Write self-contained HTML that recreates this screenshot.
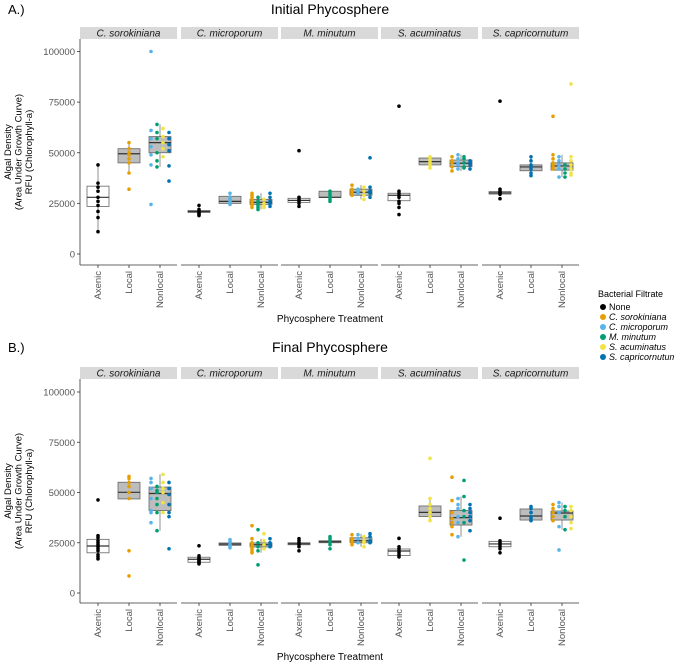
<!DOCTYPE html>
<html><head><meta charset="utf-8">
<style>
html,body{margin:0;padding:0;background:#fff;}
svg{display:block;font-family:"Liberation Sans",Arial,sans-serif;}
</style></head>
<body>
<svg id="chart" width="674" height="663" viewBox="0 0 674 663">
  <text x="8" y="14" font-size="13" fill="#000">A.)</text>
  <text x="330" y="14" font-size="14" text-anchor="middle" fill="#000">Initial Phycosphere</text>
  <text x="8" y="352" font-size="13" fill="#000">B.)</text>
  <text x="330" y="352" font-size="14" text-anchor="middle" fill="#000">Final Phycosphere</text>
  <text x="330" y="322" font-size="10" text-anchor="middle" fill="#000">Phycosphere Treatment</text>
  <text x="330" y="660" font-size="10" text-anchor="middle" fill="#000">Phycosphere Treatment</text>
  <g id="legend">
    <text x="598" y="297" font-size="9" fill="#000">Bacterial Filtrate</text>
  </g>
</svg>
<script>
const species = ["C. sorokiniana","C. microporum","M. minutum","S. acuminatus","S. capricornutum"];
const treatments = ["Axenic","Local","Nonlocal"];
const legendLabels = ["None","C. sorokiniana","C. microporum","M. minutum","S. acuminatus","S. capricornutum"];
const colors = ["#000000","#E69F00","#56B4E9","#009E73","#F0E442","#0072B2"];
const yTicks = [0,25000,50000,75000,100000];

// box stats [q1, median, q3] per group (species x treatment)
const initialBoxes = [
 [23500,28000,33500],[45000,49500,52000],[50000,55000,58000],
 [20500,21000,21500],[25000,26000,28500],[24500,25500,27000],
 [25500,26500,27500],[28000,28000,31000],[29000,30500,32000],
 [26300,29000,30000],[44000,45600,47400],[43100,44800,46400],
 [29600,30200,30800],[41100,43000,44000],[41400,43500,45000]
];
// points per group: [none, sor, mic, min, acu, cap]
const initialPoints = [
 [[44000,35000,33000,31000,28000,26000,24000,21000,18000,11000],[],[],[],[],[]],
 [[],[55000,52000,50000,49000,47000,45000,40000,32000],[],[],[],[]],
 [[],[],[100000,61000,57000,53000,49000,44000,24500],[64000,60000,57000,50000,46000,43000],[62000,58000,55000,52000,48000],[60000,57000,54000,51000,43500,36000]],
 [[24000,22000,21000,20500,20000,19500,19000],[],[],[],[],[]],
 [[],[],[30000,28000,27000,26000,25000,24500],[],[],[]],
 [[],[30000,29000,28000,27000,26000,25000,24000,23000],[],[28000,26000,25000,24000,23000,22000],[27000,25000,24000,23000],[30000,28000,26000,25000,23500]],
 [[51000,28000,27000,26000,25000,23500],[],[],[],[],[]],
 [[],[],[],[31000,30000,29000,28000,27000,26000],[],[]],
 [[],[34000,32000,31000,30000,29000],[32000,31000,30000],[],[33000,31000,29000,27000],[47500,33000,31000,30000,28000]],
 [[73000,31000,30000,29000,28000,26000,25000,23000,19500],[],[],[],[],[]],
 [[],[],[],[],[48000,47000,46000,45000,44000,42500],[]],
 [[],[48000,46000,45000,43000,41000],[49000,47000,45000,44000,42000],[48000,47000,45000,43000,42500],[],[46000,45000,44000,42000]],
 [[75500,32000,31000,30500,30000,29500,27300],[],[],[],[],[]],
 [[],[],[],[],[],[48000,46000,44000,43000,42000,40000,38700]],
 [[],[68000,49000,47000,45000,44000,43000,42000],[48000,46000,44000,42000,38000],[44000,42000,40000,38000],[84000,48000,46000,44000,42000,40000,39000],[]]
];
const finalBoxes = [
 [20000,23400,26700],[46800,50100,55100],[41000,49500,52700],
 [15300,16800,17800],[23700,24300,24900],[22900,24000,24900],
 [24000,24500,25000],[25000,25500,26000],[25000,26000,27500],
 [18600,20900,21900],[38000,40100,43300],[33800,37500,41100],
 [23000,24400,25700],[36300,38300,41800],[36300,39800,40800]
];
const finalPoints = [
 [[46300,28500,27500,26000,25000,24000,23000,22000,21000,19000,18000,17000],[],[],[],[],[]],
 [[],[58000,57000,55000,53000,50000,47000,21000,8500],[],[],[],[]],
 [[],[],[57000,55000,52000,47000,41000,40000,35000],[53000,51000,50000,47000,44000,40000,31000],[59000,55000,52000,50000,45000,40000],[55000,52000,49000,44000,40000,38000,22000]],
 [[23500,18500,17500,17000,16500,16000,15500,15000,14500],[],[],[],[],[]],
 [[],[],[26500,25500,25000,24000,23500,22500],[],[],[]],
 [[],[33500,27000,25000,24000,23000,22000,21000,20000],[],[31500,25000,23000,21000,14000],[29500,26000,24000,22000],[27000,25000,24000,23000]],
 [[27000,26000,25000,24000,23000,21000],[],[],[],[],[]],
 [[],[],[],[28000,27000,26000,25000,24000,22000],[],[]],
 [[],[29000,27000,26000,25000,24000],[29000,27000,25000],[],[28000,26000,25000,23000],[29500,28000,26000,25000]],
 [[27200,23000,22000,21000,20000,19000,18000],[],[],[],[],[]],
 [[],[],[],[],[67000,47000,44000,42000,40000,38000,36000],[]],
 [[],[57600,46000,40000,37000,35000,33000,29000],[47000,44000,42000,38000,35000,28000],[56000,48000,41000,38000,35000,16400],[],[44000,42000,40000,38000,36000,31000]],
 [[37200,26000,25000,24000,23000,22000,20000],[],[],[],[],[]],
 [[],[],[],[],[],[43000,42000,40000,38000,37000,36000]],
 [[],[44000,42000,40000,38000,36000],[45000,43000,40000,33000,21400],[43000,41000,38000,31500],[43000,41000,38000,35000,32000],[]]
];

const NS="http://www.w3.org/2000/svg";
const svg=document.getElementById('chart');
function mk(tag,attrs,parent){const e=document.createElementNS(NS,tag);for(const k in attrs)e.setAttribute(k,attrs[k]);(parent||svg).appendChild(e);return e;}
const panelX=[80,181,281,381,482], panelW=97;

function drawPlot(key,boxes,points,L){
  const g=mk('g',{});
  
  
  const yS=v=>L.y0+(L.y100-L.y0)*v/100000;
  yTicks.forEach(t=>{
    const tx=mk('text',{x:75,y:yS(t)+3.5,'font-size':9.5,'text-anchor':'end',fill:'#555'},g);
    tx.textContent=t;
    
    
    mk('line',{x1:panelX[0]-3,x2:panelX[0],y1:yS(t),y2:yS(t),stroke:'#333','stroke-width':0.8},g);
  });
  mk('line',{x1:panelX[0],x2:panelX[0],y1:L.pTop,y2:L.axisY,stroke:'#333','stroke-width':0.8},g);
  const yt=mk('text',{transform:`translate(${L.ytx},${(L.pTop+L.axisY)/2}) rotate(-90)`,'font-size':9.5,'text-anchor':'middle',fill:'#000'},g);
  
  
  ['Algal Density','(Area Under Growth Curve)','RFU (Chlorophyll-a)'].forEach((s,i)=>{
    const ts=mk('tspan',{x:0,y:-13+i*10.5},yt);ts.textContent=s;
  });
  species.forEach((sp,p)=>{
    const px=panelX[p];
    const st=mk('rect',{x:px,y:L.sTop,width:panelW,height:L.pTop-L.sTop,fill:'#d9d9d9'},g);
    
    
    const stt=mk('text',{x:px+panelW/2,y:L.pTop-2.5,'font-size':10,'font-style':'italic','text-anchor':'middle',fill:'#1a1a1a'},g);
    stt.textContent=sp;
    
    
    mk('line',{x1:px,x2:px+panelW,y1:L.axisY,y2:L.axisY,stroke:'#333','stroke-width':0.8},g);
    treatments.forEach((tr,t)=>{
      const gi=p*3+t;
      const cx=px+18+t*31;
      mk('line',{x1:cx,x2:cx,y1:L.axisY,y2:L.axisY+3,stroke:'#333','stroke-width':0.8},g);
      const tl=mk('text',{transform:`translate(${cx+3},${L.axisY+6}) rotate(-90)`,'font-size':9.5,'text-anchor':'end',fill:'#555'},g);
      tl.textContent=tr;
      
      
      const [q1,md,q3]=boxes[gi];
      const iqr=q3-q1;
      const all=[].concat(...points[gi]);
      const inr=all.filter(v=>v>=q1-1.5*iqr&&v<=q3+1.5*iqr);
      const wlo=Math.min(q1,...inr), whi=Math.max(q3,...inr);
      const bg=mk('g',{},g);
      
      
      mk('line',{x1:cx,x2:cx,y1:yS(wlo),y2:yS(q1),stroke:'#777','stroke-width':0.8},bg);
      mk('line',{x1:cx,x2:cx,y1:yS(q3),y2:yS(whi),stroke:'#777','stroke-width':0.8},bg);
      mk('rect',{x:cx-11,y:yS(q3),width:22,height:Math.max(1,yS(q1)-yS(q3)),fill:t===0?'#fff':'#bdbdbd',stroke:'#666','stroke-width':0.8},bg);
      mk('line',{x1:cx-11,x2:cx+11,y1:yS(md),y2:yS(md),stroke:'#333','stroke-width':1.2},bg);
      const nonEmpty=[];points[gi].forEach((arr,c)=>{if(arr.length)nonEmpty.push(c);});
      nonEmpty.forEach((c,k)=>{
        const off=nonEmpty.length>1?(k-(nonEmpty.length-1)/2)*6:0;
        points[gi][c].forEach(v=>{
          const pt=mk('circle',{cx:cx+off,cy:yS(v),r:1.8,fill:colors[c]},bg);
          
          
        });
      });
    });
  });
}
drawPlot('initial',initialBoxes,initialPoints,{sTop:27,pTop:39,axisY:265,y0:254,y100:51.5,ytx:24});
drawPlot('final',finalBoxes,finalPoints,{sTop:367,pTop:379,axisY:603,y0:593,y100:392,ytx:24});

const lg=document.getElementById('legend');
legendLabels.forEach((s,i)=>{
  const y=307+i*10;
  const en=mk('g',{},lg);
  
  
  mk('circle',{cx:603,cy:y,r:3,fill:colors[i]},en);
  const t=mk('text',{x:609,y:y+3,'font-size':9,fill:'#000','font-style':i?'italic':'normal'},en);
  t.textContent=s;
});
</script>
</body></html>
